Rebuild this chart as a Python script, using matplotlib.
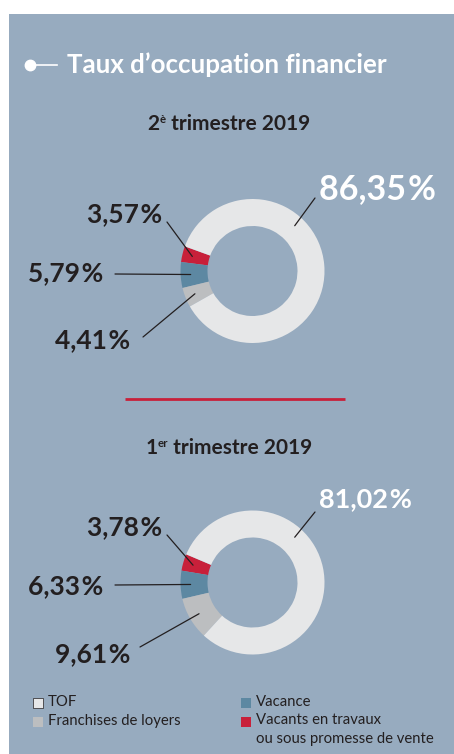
import numpy as np
import matplotlib
matplotlib.use('Agg')
import matplotlib.pyplot as plt
from matplotlib.patches import Rectangle

FONT = ['Lato', 'DejaVu Sans']
plt.rcParams['font.family'] = FONT

# ---------------- data ----------------
categories = ['TOF', 'Franchises de loyers', 'Vacance',
              'Vacants en travaux\nou sous promesse de vente']
period_main = ['2', '1']
period_sup = ['è', 'er']
period_rest = [' trimestre 2019', ' trimestre 2019']
tof = [86.35, 81.02]
franchises = [4.41, 9.61]
vacance = [5.79, 6.33]
vacants_travaux = [3.57, 3.78]

# ---------------- style ----------------
W, H = 454, 754
BG = '#97abbf'
DARK = '#231f20'
C_TOF = '#e6e7e8'
C_FR = '#bcbec0'
C_VAC = '#5d88a2'
C_TRV = '#c8203a'

fig = plt.figure(figsize=(W / 100, H / 100), dpi=100)
fig.patch.set_facecolor('white')

bg = fig.add_axes([0, 0, 1, 1], zorder=0)
bg.set_xlim(0, W)
bg.set_ylim(H, 0)
bg.axis('off')
bg.add_patch(Rectangle((9, 14), W - 9, H - 14, facecolor=BG, edgecolor='none'))

ov = fig.add_axes([0, 0, 1, 1], zorder=3)
ov.set_xlim(0, W)
ov.set_ylim(H, 0)
ov.axis('off')
ov.patch.set_alpha(0)


def fmt(v):
    return f"{v:.2f}".replace('.', ',') + '\u200a%'


# title
ov.plot([35, 57], [65, 65], color='white', lw=1.2)
ov.plot([30], [65], 'o', color='white', ms=7.5)
ov.text(67, 73, 'Taux d\u2019occupation financier', color='white',
        fontsize=18.6, fontweight='bold', ha='left', va='baseline')

renderer = fig.canvas.get_renderer()


def sup_title(xc, base, main, sup, rest, size):
    t1 = ov.text(0, base, main, fontsize=size, fontweight='bold', color=DARK, va='baseline')
    t2 = ov.text(0, base - 7, sup, fontsize=size * 0.55, fontweight='bold', color=DARK, va='baseline')
    t3 = ov.text(0, base, rest, fontsize=size, fontweight='bold', color=DARK, va='baseline')
    ws = [t.get_window_extent(renderer).width for t in (t1, t2, t3)]
    x = xc - sum(ws) / 2
    for t, w in zip((t1, t2, t3), ws):
        t.set_x(x)
        x += w


centers = [(252.5, 271), (252.5, 582.5)]
R = 72
startangles = [160, 157]
sub_base = [130, 454]
tof_size = [24.5, 19.5]
tof_text = [(319, 199), (319, 507)]
small_text = [[(162, 222), (103, 281), (130, 348)],
              [(162, 535), (103, 594), (130, 662)]]
leader_end = [[(315, 198), (167, 222), (115, 274), (143, 337)],
              [(315, 512), (167, 535), (115, 585), (140, 647)]]
tof_leader_angle = 47
r_in = 0.86

for i, (cx, cy) in enumerate(centers):
    sup_title(229, sub_base[i], period_main[i], period_sup[i], period_rest[i], 15)
    pax = fig.add_axes([(cx - R) / W, 1 - (cy + R) / H, 2 * R / W, 2 * R / H], zorder=1)
    vals = [vacants_travaux[i], vacance[i], franchises[i], tof[i]]
    wedges, _ = pax.pie(vals, colors=[C_TRV, C_VAC, C_FR, C_TOF], startangle=startangles[i],
                        counterclock=True, radius=1,
                        wedgeprops=dict(width=0.375, linewidth=0))
    pax.set_xlim(-1, 1)
    pax.set_ylim(-1, 1)
    pax.axis('off')

    angles = [tof_leader_angle] + [(w.theta1 + w.theta2) / 2 for w in wedges[:3]]
    for a, end in zip(angles, leader_end[i]):
        ar = np.deg2rad(a)
        ov.annotate('', xy=(r_in * np.cos(ar), r_in * np.sin(ar)), xycoords=pax.transData,
                    xytext=end, textcoords='data',
                    arrowprops=dict(arrowstyle='-', color=DARK, lw=0.9, shrinkA=0, shrinkB=0))

    ov.text(tof_text[i][0], tof_text[i][1], fmt(tof[i]), color='white', fontsize=tof_size[i],
            fontweight='bold', ha='left', va='baseline')
    for v, (x, y) in zip([vacants_travaux[i], vacance[i], franchises[i]], small_text[i]):
        ov.text(x, y, fmt(v), color=DARK, fontsize=19, fontweight='bold', ha='right', va='baseline')

# separator
ov.hlines(399, 125, 345, color=C_TRV, lw=2)

# legend
leg_pos = [(33, 698), (33, 717), (241, 698), (241, 717)]
leg_cols = [C_TOF, C_FR, C_VAC, C_TRV]
for cat, col, (x, y) in zip(categories, leg_cols, leg_pos):
    ov.add_patch(Rectangle((x, y), 9.5, 9.5, facecolor=col,
                           edgecolor=DARK if col == C_TOF else 'none', lw=0.5))
    lines = cat.split('\n')
    for k, ln in enumerate(lines):
        ov.text(x + 14.5, y + 7.5 + k * 18, ln, fontsize=10.7, color=DARK, ha='left', va='baseline')

fig.savefig('out.png', dpi=100, facecolor='white')
